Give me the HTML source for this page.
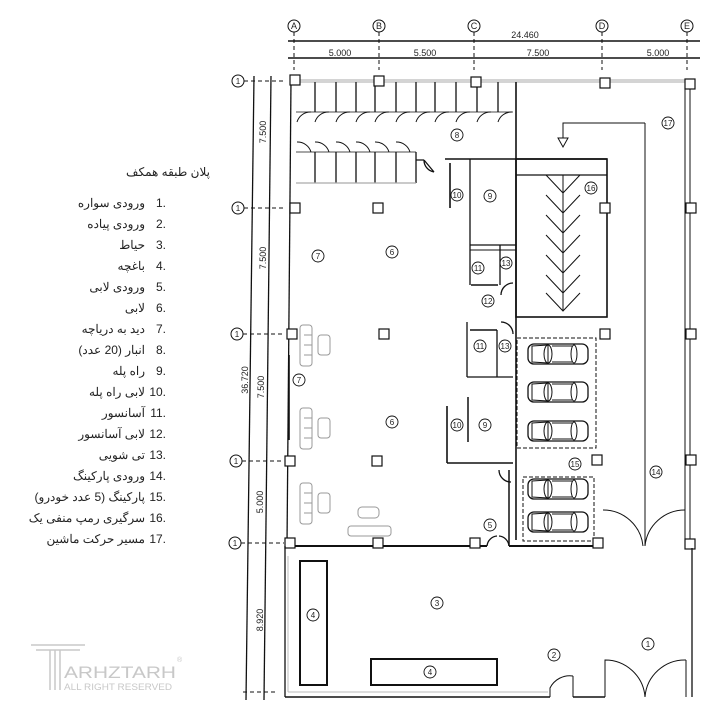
<!DOCTYPE html>
<html><head><meta charset="utf-8"><style>
html,body{margin:0;padding:0;background:#fff;width:720px;height:720px;overflow:hidden}
svg{display:block}
text{font-family:"Liberation Sans",sans-serif;fill:#222}
.fa{font-family:"Liberation Sans","Noto Sans CJK SC","DejaVu Sans",sans-serif;font-size:12px;fill:#222}
</style></head><body>
<svg width="720" height="720" viewBox="0 0 720 720" xmlns="http://www.w3.org/2000/svg">
<defs>
<g id="car">
<rect x="0" y="-10" width="60" height="20" rx="6" fill="#fff" stroke="#111" stroke-width="1.3"/>
<path d="M4,-8 L20,-9 L20,9 L4,8 Z" fill="none" stroke="#111" stroke-width="1"/>
<ellipse cx="20" cy="0" rx="4" ry="9" fill="none" stroke="#111" stroke-width="1"/>
<ellipse cx="46" cy="0" rx="3" ry="9" fill="none" stroke="#111" stroke-width="1"/>
<line x1="24" y1="-8" x2="44" y2="-8" stroke="#111"/><line x1="24" y1="8" x2="44" y2="8" stroke="#111"/>
</g>
<g id="sofa"><rect x="0" y="0" width="12" height="41" rx="3" fill="#fff" stroke="#999"/>
<line x1="4" y1="10" x2="12" y2="10" stroke="#999"/><line x1="4" y1="20" x2="12" y2="20" stroke="#999"/><line x1="4" y1="30" x2="12" y2="30" stroke="#999"/>
<rect x="18" y="10" width="12" height="20" rx="3" fill="#fff" stroke="#999"/></g>
<g id="col"><rect x="-5" y="-5" width="10" height="10" fill="#fff" stroke="#111" stroke-width="1.2"/></g>
</defs>

<!-- grid top -->
<g stroke="#111" stroke-width="1" fill="none">
<circle cx="294" cy="26" r="6"/><circle cx="379" cy="26" r="6"/><circle cx="474" cy="26" r="6"/><circle cx="602" cy="26" r="6"/><circle cx="687" cy="26" r="6"/>
<line x1="288" y1="41" x2="700" y2="41" stroke-width="1.5"/>
<line x1="288" y1="58" x2="700" y2="58" stroke-width="1.5"/>
<g stroke-dasharray="4,3"><line x1="294" y1="32" x2="294" y2="70"/><line x1="379" y1="32" x2="379" y2="70"/><line x1="474" y1="32" x2="474" y2="70"/><line x1="602" y1="32" x2="602" y2="70"/><line x1="687" y1="32" x2="687" y2="70"/></g>
</g>
<g font-size="9" text-anchor="middle">
<text x="294" y="29">A</text><text x="379" y="29">B</text><text x="474" y="29">C</text><text x="602" y="29">D</text><text x="687" y="29">E</text>
<text x="525" y="38">24.460</text>
<text x="340" y="56">5.000</text><text x="425" y="56">5.500</text><text x="538" y="56">7.500</text><text x="658" y="56">5.000</text>
</g>

<!-- left grid -->
<g stroke="#111" stroke-width="1" fill="none">
<circle cx="238" cy="81" r="6"/><circle cx="238" cy="208" r="6"/><circle cx="237" cy="334" r="6"/><circle cx="236" cy="461" r="6"/><circle cx="235" cy="543" r="6"/>
<g stroke-dasharray="4,3"><line x1="244" y1="81" x2="284" y2="81"/><line x1="244" y1="208" x2="284" y2="208"/><line x1="243" y1="334" x2="284" y2="334"/><line x1="242" y1="461" x2="284" y2="461"/><line x1="241" y1="543" x2="284" y2="543"/><line x1="243" y1="692" x2="278" y2="692"/></g>
<line x1="254" y1="76" x2="246" y2="700" stroke-width="1.3"/>
<line x1="271" y1="76" x2="264" y2="700" stroke-width="1.3"/>
</g>
<g font-size="9" text-anchor="middle" fill="#222">
<text transform="translate(266,132) rotate(-90)">7.500</text>
<text transform="translate(266,258) rotate(-90)">7.500</text>
<text transform="translate(264,387) rotate(-90)">7.500</text>
<text transform="translate(263,502) rotate(-90)">5.000</text>
<text transform="translate(248,380) rotate(-90)">36.720</text>
<text transform="translate(263,620) rotate(-90)">8.920</text>
</g>
<g font-size="8" text-anchor="middle"><text x="238" y="84">1</text><text x="238" y="211">1</text><text x="237" y="337">1</text><text x="236" y="464">1</text><text x="235" y="546">1</text></g>

<!-- building outline -->
<g stroke="#111" fill="none">
<line x1="290" y1="80" x2="690" y2="80" stroke="#aaa" stroke-width="1"/>
<line x1="290" y1="82" x2="690" y2="82" stroke="#aaa" stroke-width="1"/>
<line x1="291" y1="80" x2="287" y2="545" stroke-width="1.3"/>
<line x1="685" y1="82" x2="685" y2="548" stroke-width="1"/>
<line x1="690" y1="82" x2="690" y2="548" stroke-width="1"/>
<line x1="287" y1="546" x2="487" y2="546" stroke-width="2"/>
<line x1="509" y1="546" x2="603" y2="546" stroke-width="2"/>
<line x1="509" y1="546" x2="509" y2="470" stroke-width="1.5"/>
</g>
<!-- storage -->
<g stroke="#111" stroke-width="1.3" fill="none">
<line x1="315" y1="82" x2="315" y2="112"/><line x1="336" y1="82" x2="336" y2="112"/><line x1="356" y1="82" x2="356" y2="112"/><line x1="375" y1="82" x2="375" y2="112"/><line x1="396" y1="82" x2="396" y2="112"/><line x1="416" y1="82" x2="416" y2="112"/><line x1="435" y1="82" x2="435" y2="112"/><line x1="456" y1="82" x2="456" y2="112"/><line x1="477" y1="82" x2="477" y2="112"/><line x1="498" y1="82" x2="498" y2="112"/>
<path d="M297,122 A14,14 0 0 1 311,112 M315,122 A14,14 0 0 1 329,112 M336,122 A14,14 0 0 1 350,112 M356,122 A14,14 0 0 1 370,112 M375,122 A14,14 0 0 1 389,112 M396,122 A14,14 0 0 1 410,112 M416,122 A14,14 0 0 1 430,112 M435,122 A14,14 0 0 1 449,112 M456,122 A14,14 0 0 1 470,112 M477,122 A14,14 0 0 1 491,112 M498,122 A14,14 0 0 1 512,112" stroke-width="1"/>
<line x1="296" y1="112" x2="513" y2="112" stroke-width="0.8"/>
<line x1="296" y1="152" x2="416" y2="152" stroke-width="0.8"/>
<path d="M297,142 A14,14 0 0 1 311,152 M315,142 A14,14 0 0 1 329,152 M336,142 A14,14 0 0 1 350,152 M356,142 A14,14 0 0 1 370,152 M375,142 A14,14 0 0 1 389,152 M396,142 A14,14 0 0 1 410,152" stroke-width="1"/>
<line x1="315" y1="152" x2="315" y2="183"/><line x1="336" y1="152" x2="336" y2="183"/><line x1="356" y1="152" x2="356" y2="183"/><line x1="375" y1="152" x2="375" y2="183"/><line x1="396" y1="152" x2="396" y2="183"/><line x1="416" y1="152" x2="416" y2="183"/>
<line x1="296" y1="183" x2="416" y2="183" stroke="#aaa"/>
<path d="M416,160 L424,160 M424,160 L434,172 M424,160 A12,12 0 0 0 434,172"/>
<line x1="516" y1="82" x2="516" y2="540" stroke-width="1.6"/>
<line x1="445" y1="159" x2="607" y2="159" stroke-width="1.6"/>
<line x1="450" y1="163" x2="450" y2="208" stroke-width="1.6"/>
<line x1="470" y1="159" x2="470" y2="285" stroke-width="1.3"/>
<line x1="470" y1="245" x2="516" y2="245" stroke-width="1.3"/>
<line x1="470" y1="250" x2="516" y2="250" stroke-width="1"/>
<line x1="500" y1="245" x2="500" y2="285"/>
<line x1="471" y1="285" x2="498" y2="285" stroke-width="1.5"/>
<path d="M501,295 A12,12 0 0 1 513,283"/>
<!-- ramp -->
<rect x="516" y="159" width="91" height="158" stroke-width="1.6"/>
<line x1="516" y1="175" x2="607" y2="175" stroke-width="1.3"/>
<line x1="563" y1="175" x2="563" y2="311" stroke-width="1"/>
<path d="M546,175 L563,193 L580,175 M546,195 L563,213 L580,195 M546,215 L563,233 L580,215 M546,235 L563,253 L580,235 M546,255 L563,273 L580,255 M546,275 L563,293 L580,275 M546,293 L563,311 L580,293" stroke-width="1"/>
<path d="M645,123 L563,123 L563,138" stroke-width="1"/>
<path d="M558,138 L568,138 L563,147 Z" fill="#fff" stroke-width="1"/>
<line x1="645" y1="123" x2="645" y2="546" stroke-width="1"/>
<!-- lower elevator/stair -->
<line x1="467" y1="322" x2="467" y2="377" stroke-width="1.3"/>
<line x1="470" y1="330" x2="497" y2="330" stroke-width="1.5"/>
<line x1="497" y1="330" x2="497" y2="377"/>
<path d="M501,322 A12,12 0 0 1 513,334"/>
<line x1="467" y1="377" x2="513" y2="377" stroke-width="1.3"/>
<line x1="468" y1="397" x2="468" y2="442" stroke-width="1.5"/>
<line x1="447" y1="406" x2="447" y2="463" stroke-width="1.6"/>
<line x1="447" y1="463" x2="513" y2="463" stroke-width="1.6"/>
<path d="M499,470 A12,12 0 0 0 511,482"/>
<!-- lobby door 5 -->
<path d="M487,546 A11,11 0 0 1 497,536 M509,546 A11,11 0 0 0 499,536"/>
<!-- gate 14 -->
<path d="M603,510 A40,40 0 0 1 643,546 M685,510 A40,40 0 0 0 645,546" stroke-width="1"/>
</g>
<!-- parking -->
<g stroke="#111" stroke-width="1" fill="none" stroke-dasharray="4,2">
<rect x="517" y="338" width="79" height="110"/>
<rect x="523" y="477" width="71" height="64"/>
</g>
<use href="#car" x="528" y="354"/><use href="#car" x="528" y="392"/><use href="#car" x="528" y="431"/>
<use href="#car" x="528" y="489"/><use href="#car" x="528" y="522"/>
<!-- lounge -->
<g stroke="#111" fill="none"><line x1="289" y1="355" x2="289" y2="440" stroke-width="1.6"/></g>
<use href="#sofa" x="300" y="325"/><use href="#sofa" x="300" y="408"/><use href="#sofa" x="300" y="483"/>
<rect x="348" y="526" width="43" height="10" rx="3" fill="#fff" stroke="#999"/>
<rect x="358" y="507" width="21" height="11" rx="4" fill="#fff" stroke="#999"/>
<!-- columns -->
<use href="#col" x="295" y="80"/><use href="#col" x="379" y="81"/><use href="#col" x="476" y="82"/><use href="#col" x="605" y="83"/><use href="#col" x="690" y="84"/>
<use href="#col" x="295" y="208"/><use href="#col" x="378" y="208"/><use href="#col" x="605" y="208"/><use href="#col" x="691" y="208"/>
<use href="#col" x="292" y="334"/><use href="#col" x="384" y="334"/><use href="#col" x="605" y="334"/><use href="#col" x="691" y="334"/>
<use href="#col" x="290" y="461"/><use href="#col" x="377" y="461"/><use href="#col" x="597" y="460"/><use href="#col" x="691" y="460"/>
<use href="#col" x="290" y="543"/><use href="#col" x="378" y="543"/><use href="#col" x="475" y="543"/><use href="#col" x="598" y="543"/><use href="#col" x="690" y="544"/>
<!-- yard -->
<g stroke="#111" fill="none">
<line x1="285" y1="546" x2="285" y2="697" stroke-width="1.3"/>
<line x1="288" y1="556" x2="288" y2="692" stroke="#bbb"/>
<line x1="288" y1="692" x2="548" y2="692" stroke="#bbb"/>
<line x1="285" y1="697" x2="550" y2="697" stroke-width="1.6"/>
<line x1="573" y1="697" x2="605" y2="697" stroke-width="1.6"/>
<path d="M550,697 L550,688 A22,22 0 0 1 573,676 M573,676 L573,697" stroke-width="1"/>
<path d="M605,697 L605,660 A40,40 0 0 1 645,697 M686,660 A40,40 0 0 0 645,697 M686,660 L686,697" stroke-width="1"/>
<line x1="692" y1="548" x2="692" y2="697" stroke-width="1.3"/>
<rect x="300" y="561" width="27" height="124" stroke-width="2"/>
<rect x="371" y="659" width="126" height="26" stroke-width="2"/>
</g>
<!-- labels -->
<g font-size="8.5" text-anchor="middle" fill="none" stroke="#111" stroke-width="0.9">
<circle cx="457" cy="195" r="6"/><circle cx="490" cy="196" r="6"/><circle cx="478" cy="268" r="6"/><circle cx="506" cy="263" r="6"/><circle cx="488" cy="301" r="6"/>
<circle cx="480" cy="346" r="6"/><circle cx="505" cy="346" r="6"/><circle cx="457" cy="425" r="6"/><circle cx="485" cy="425" r="6"/>
<circle cx="457" cy="135" r="6"/><circle cx="591" cy="188" r="6"/><circle cx="668" cy="123" r="6"/>
<circle cx="318" cy="256" r="6"/><circle cx="392" cy="252" r="6"/><circle cx="299" cy="380" r="6"/><circle cx="392" cy="422" r="6"/>
<circle cx="575" cy="464" r="6"/><circle cx="656" cy="472" r="6"/><circle cx="490" cy="525" r="6"/>
<circle cx="437" cy="603" r="6"/><circle cx="313" cy="615" r="6"/><circle cx="430" cy="672" r="6"/><circle cx="554" cy="655" r="6"/><circle cx="648" cy="644" r="6"/>
</g>
<g font-size="8" text-anchor="middle">
<text x="457" y="198">10</text><text x="490" y="199">9</text><text x="478" y="271">11</text><text x="506" y="266">13</text><text x="488" y="304">12</text>
<text x="480" y="349">11</text><text x="505" y="349">13</text><text x="457" y="428">10</text><text x="485" y="428">9</text>
<text x="457" y="138">8</text><text x="591" y="191">16</text><text x="668" y="126">17</text>
<text x="318" y="259">7</text><text x="392" y="255">6</text><text x="299" y="383">7</text><text x="392" y="425">6</text>
<text x="575" y="467">15</text><text x="656" y="475">14</text><text x="490" y="528">5</text>
<text x="437" y="606">3</text><text x="313" y="618">4</text><text x="430" y="675">4</text><text x="554" y="658">2</text><text x="648" y="647">1</text>
</g>
<!-- legend -->
<text class="fa" x="210" y="176" text-anchor="start" direction="rtl" style="font-size:12px">پلان طبقه همکف</text>
<g class="fa" text-anchor="end">
<text x="166" y="207">1.</text><text x="166" y="228">2.</text><text x="166" y="249">3.</text><text x="166" y="270">4.</text><text x="166" y="291">5.</text><text x="166" y="312">6.</text><text x="166" y="333">7.</text><text x="166" y="354">8.</text><text x="166" y="375">9.</text><text x="166" y="396">10.</text><text x="166" y="417">11.</text><text x="166" y="438">12.</text><text x="166" y="459">13.</text><text x="166" y="480">14.</text><text x="166" y="501">15.</text><text x="166" y="522">16.</text><text x="166" y="543">17.</text>
</g>
<g class="fa" text-anchor="start" direction="rtl">
<text x="145" y="207">ورودی سواره</text><text x="145" y="228">ورودی پیاده</text><text x="145" y="249">حیاط</text><text x="145" y="270">باغچه</text><text x="145" y="291">ورودی لابی</text><text x="145" y="312">لابی</text><text x="145" y="333">دید به دریاچه</text><text x="145" y="354">انبار (20 عدد)</text><text x="145" y="375">راه پله</text><text x="145" y="396">لابی راه پله</text><text x="145" y="417">آسانسور</text><text x="145" y="438">لابی آسانسور</text><text x="145" y="459">تی شویی</text><text x="145" y="480">ورودی پارکینگ</text><text x="145" y="501">پارکینگ (5 عدد خودرو)</text><text x="145" y="522">سرگیری رمپ منفی یک</text><text x="145" y="543">مسیر حرکت ماشین</text>
</g>
<!-- logo -->
<g fill="none" stroke="#c8c8c8" stroke-width="1.5">
<line x1="31" y1="645" x2="85" y2="645"/><line x1="36" y1="650" x2="80" y2="650"/>
<line x1="50" y1="650" x2="50" y2="690"/><line x1="55" y1="650" x2="55" y2="690"/><line x1="60" y1="650" x2="60" y2="690"/>
</g>
<text x="64" y="678" font-size="17" textLength="112" lengthAdjust="spacingAndGlyphs" style="fill:#c8c8c8">ARHZTARH</text>
<text x="64" y="690" font-size="9" textLength="108" lengthAdjust="spacingAndGlyphs" style="fill:#c8c8c8">ALL RIGHT RESERVED</text>
<text x="177" y="662" font-size="7" style="fill:#c8c8c8">®</text>
</svg>
</body></html>
